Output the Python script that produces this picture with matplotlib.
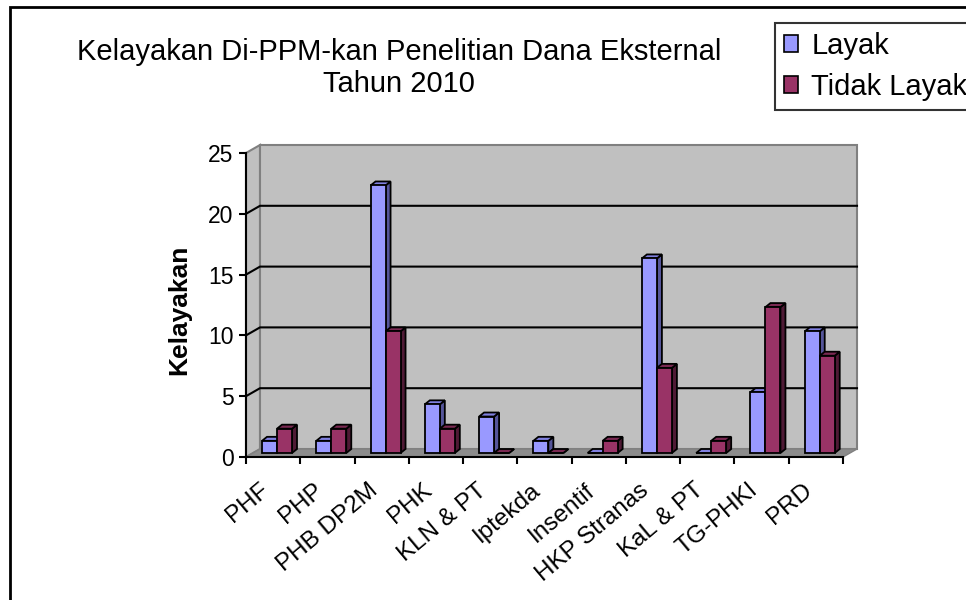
import matplotlib
matplotlib.use('Agg')
import matplotlib.pyplot as plt
import matplotlib.transforms as mtransforms
from matplotlib.patches import Polygon, Rectangle, Patch

plt.rcParams['font.family'] = ['Liberation Sans', 'DejaVu Sans']

# Data
categories = ['PHF', 'PHP', 'PHB DP2M', 'PHK', 'KLN & PT', 'Iptekda',
              'Insentif', 'HKP Stranas', 'KaL & PT', 'TG-PHKI', 'PRD']
layak = [1, 1, 22, 4, 3, 1, 0, 16, 0, 5, 10]
tidak_layak = [2, 2, 10, 2, 0, 0, 1, 7, 1, 12, 8]
series_names = ['Layak', 'Tidak Layak']
y_ticks = [0, 5, 10, 15, 20, 25]
title = 'Kelayakan Di-PPM-kan Penelitian Dana Eksternal\nTahun 2010'
y_label = 'Kelayakan'

# Excel-ish 3D colours
face_colors = ['#9999FF', '#993366']
top_colors = ['#8080E0', '#7A2952']
side_colors = ['#55559A', '#4F1A35']

fig = plt.figure(figsize=(9.66, 6), dpi=100)
ax = fig.add_axes([246 / 966, 143 / 600, 597 / 966, 304 / 600])
n = len(categories)
ymax = y_ticks[-1]
ax.set_xlim(0, n)
ax.set_ylim(0, ymax)
ax.patch.set_visible(False)

# pixel sizes -> data units
px_x = n / 597
px_y = ymax / 304
wall_dx, wall_dy = 14 * px_x, 8 * px_y
bar_dx, bar_dy = 5 * px_x, 4 * px_y
bar_w = 15 * px_x
bar_off = 16 * px_x
base = 4 * px_y


def poly(pts, fc, ec, lw=1.0, z=1):
    ax.add_patch(Polygon(pts, closed=True, facecolor=fc, edgecolor=ec,
                         linewidth=lw, zorder=z, clip_on=False))


# walls and floor
poly([(0, 0), (0, ymax), (wall_dx, ymax + wall_dy), (wall_dx, wall_dy)], '#C0C0C0', '#808080', 1.5)
poly([(wall_dx, wall_dy), (n + wall_dx, wall_dy), (n + wall_dx, ymax + wall_dy),
      (wall_dx, ymax + wall_dy)], '#C0C0C0', '#808080', 1.5)
poly([(0, 0), (n, 0), (n + wall_dx, wall_dy), (wall_dx, wall_dy)], '#8C8C8C', '#808080', 1.0)

# gridlines along side and back wall
for t in y_ticks[1:-1]:
    ax.plot([0, wall_dx, n + wall_dx], [t, t + wall_dy, t + wall_dy],
            color='black', lw=1.5, zorder=2, clip_on=False)

# 3D bars
for i in range(n):
    for s, vals in enumerate([layak, tidak_layak]):
        x0 = i + bar_off + s * bar_w
        h = vals[i]
        poly([(x0 + bar_w, base), (x0 + bar_w, base + h),
              (x0 + bar_w + bar_dx, base + h + bar_dy), (x0 + bar_w + bar_dx, base + bar_dy)],
             side_colors[s], 'black', 1.3, 3)
        poly([(x0, base + h), (x0 + bar_w, base + h),
              (x0 + bar_w + bar_dx, base + h + bar_dy), (x0 + bar_dx, base + h + bar_dy)],
             top_colors[s], 'black', 1.3, 3)
        poly([(x0, base), (x0 + bar_w, base), (x0 + bar_w, base + h), (x0, base + h)],
             face_colors[s], 'black', 1.3, 3)

# axes lines and ticks
for side in ['top', 'right']:
    ax.spines[side].set_visible(False)
for side in ['left', 'bottom']:
    ax.spines[side].set_linewidth(1.5)
    ax.spines[side].set_zorder(4)

ax.set_yticks(y_ticks)
ax.tick_params(axis='y', direction='out', length=5, width=1.5, pad=4, labelsize=16.5)
ax.set_xticks([i + 0.5 for i in range(n)])
ax.set_xticks(range(n + 1), minor=True)
ax.set_xticklabels(categories, rotation=40, ha='right', rotation_mode='anchor', fontsize=17.5)
ax.tick_params(axis='x', which='major', length=0, pad=16)
ax.tick_params(axis='x', which='minor', direction='out', length=5, width=1.5)
shift = mtransforms.ScaledTranslation(-14 / 100, 0, fig.dpi_scale_trans)
for lab in ax.get_xticklabels():
    lab.set_transform(lab.get_transform() + shift)

fig.text(179 / 966, 1 - 310 / 600, y_label, rotation=90, ha='center', va='center',
         fontsize=19, fontweight='bold')
fig.text(399 / 966, 1 - 68 / 600, title, ha='center', va='center', fontsize=21,
         linespacing=1.2)

# legend sticking out on the right like the original
handles = [Patch(facecolor=c, edgecolor='black', linewidth=1.2) for c in face_colors]
leg = fig.legend(handles, series_names, loc='upper left', bbox_to_anchor=(775 / 966, 1 - 23 / 600),
                 fontsize=21, frameon=True, fancybox=False, borderpad=0.3,
                 handlelength=0.5, handleheight=0.5, handletextpad=0.45, labelspacing=0.45,
                 borderaxespad=0)
leg.get_frame().set_edgecolor('black')
leg.get_frame().set_linewidth(1.5)

# outer chart border
fig.add_artist(Rectangle((10 / 966, -0.05), 1.0, 1 - 7 / 600 + 0.05, transform=fig.transFigure,
                         fill=False, edgecolor='black', linewidth=2))

fig.savefig('out.png', dpi=100)
